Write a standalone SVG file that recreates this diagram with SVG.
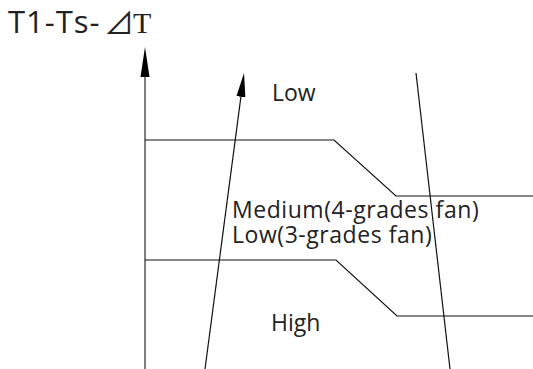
<svg xmlns="http://www.w3.org/2000/svg" width="533" height="369" viewBox="0 0 533 369">
<style>
.t{font-family:"Open Sans","Noto Sans",sans-serif;fill:#222;}
.ln{fill:none;stroke:#111;stroke-width:1.2;}
.ax{fill:none;stroke:#555;stroke-width:1.5;}
</style>
<defs>
<marker id="ah" markerUnits="userSpaceOnUse" viewBox="0 0 30 10" refX="0" refY="5" markerWidth="30" markerHeight="10" orient="auto">
<path d="M0,0.5 L30,5 L0,9.5 z" fill="#000"/>
</marker>
<marker id="ah2" markerUnits="userSpaceOnUse" viewBox="0 0 24 10" refX="0" refY="5" markerWidth="24" markerHeight="10" orient="auto">
<path d="M0,0.5 L24,5 L0,9.5 z" fill="#000"/>
</marker>
</defs>
<rect width="533" height="369" fill="#fff"/>
<g id="title"><text class="t" x="8" y="33" font-size="31" letter-spacing="1">T1-Ts-<tspan x="104" y="34" font-family="'Noto Sans CJK SC',sans-serif" font-size="30" letter-spacing="0">⊿</tspan><tspan x="133" y="33" font-family="'Liberation Serif',serif" font-size="30">T</tspan></text></g>
<g id="connectors">
<line class="ax" x1="145" y1="369" x2="145" y2="77" marker-end="url(#ah)"/>
<line class="ln" x1="205" y1="369" x2="240.9" y2="96.8" marker-end="url(#ah2)"/>
<line class="ln" x1="416" y1="73" x2="450" y2="369"/>
<polyline class="ln" points="145,140 334,140 396,196 533,196"/>
<polyline class="ln" points="145,260 336,260 397,316 533,316"/>
</g>
<g id="low"><text class="t" x="272" y="101" font-size="23">Low</text></g>
<g id="medium"><text class="t" x="232" y="218" font-size="23" letter-spacing="0.55">Medium(4-grades fan)</text>
<text class="t" x="232" y="243" font-size="23" letter-spacing="0.55">Low(3-grades fan)</text></g>
<g id="high"><text class="t" x="271" y="331" font-size="23">High</text></g>
</svg>
